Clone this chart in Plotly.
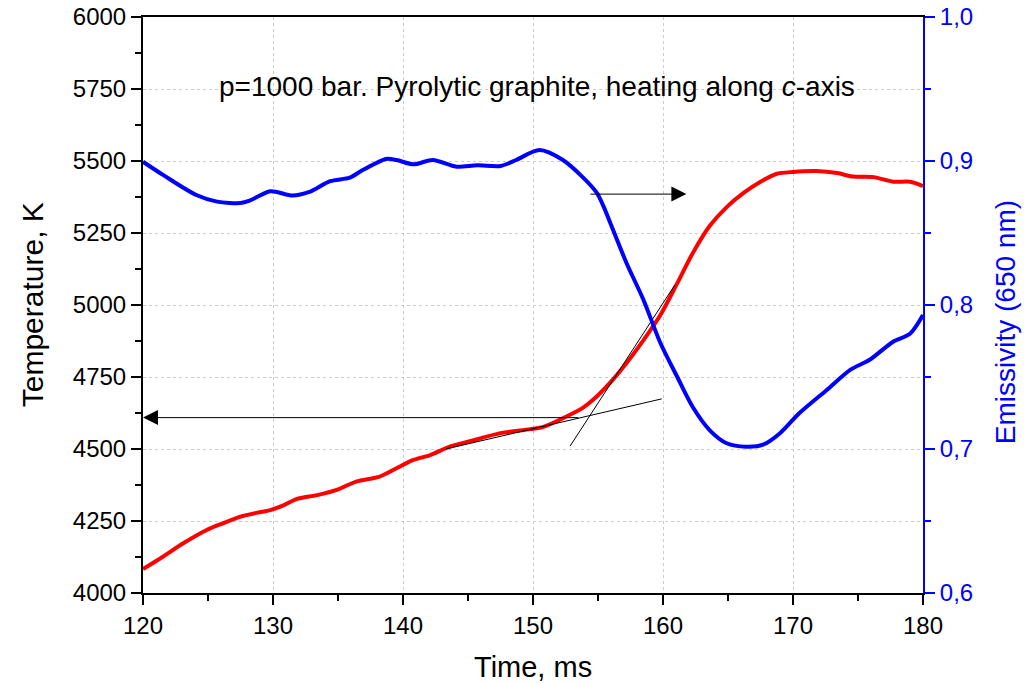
import plotly.graph_objects as go

# ---- data ----
time_T = [120, 121.5, 123, 124.9, 126.2, 127.5, 128.8, 129.8, 130.8, 131.8, 133.4, 134.9,
          136.4, 138.2, 139.5, 140.8, 142.1, 143.6, 145.7, 147.5, 149.8, 150.8, 152.3,
          153.8, 154.6, 155.9, 157.2, 158.5, 159.8, 161.1, 162.3, 163.6, 164.9, 166.2,
          167.5, 168.7, 170, 171.8, 173.4, 174.6, 176.2, 177.7, 179, 180]
temperature = [4083, 4125, 4170, 4219, 4243, 4265, 4279, 4288, 4304, 4326, 4340, 4358,
               4387, 4404, 4433, 4462, 4479, 4508, 4534, 4555, 4569, 4577, 4607,
               4642, 4670, 4729, 4799, 4878, 4965, 5076, 5181, 5275, 5340, 5389,
               5428, 5455, 5462, 5465, 5458, 5446, 5444, 5428, 5428, 5413]

time_E = [120, 121.6, 124.1, 125.7, 127.5, 128.2, 129.8, 131.5, 132.8, 134.4, 135.9, 136.9,
          138.7, 139.5, 140.8, 142.3, 144.1, 145.7, 147.5, 148.7, 150.5, 152.3, 153.8,
          154.9, 155.4, 155.9, 157.2, 158.5, 159.8, 161.1, 162.3, 163.6, 164.9, 166.4, 167.7,
          169, 170.5, 172.6, 174.4, 175.9, 177.7, 179, 180]
emissivity = [0.8995, 0.890, 0.8764, 0.8718, 0.8708, 0.8725, 0.879, 0.876, 0.8785, 0.886,
              0.8884, 0.8937, 0.9014, 0.9007, 0.8977, 0.9007, 0.896, 0.897, 0.8965, 0.9007,
              0.9076, 0.9007, 0.889, 0.878, 0.869, 0.858, 0.829, 0.8035, 0.7736, 0.750,
              0.729, 0.713, 0.704, 0.7016, 0.703, 0.711, 0.725, 0.741, 0.755, 0.762, 0.7745,
              0.780, 0.793]

# tangent lines (time, temperature)
tangent_shallow_t = [143.3, 159.9]
tangent_shallow_T = [4500, 4674]
tangent_steep_t = [152.85, 160.9]
tangent_steep_T = [4510, 5069]

# arrows: (tail_t, tail_T, head_t, head_T)
arrow_left = (153.6, 4609, 120.0, 4609)
arrow_right = (154.3, 5385, 161.8, 5385)

x_ticks = [120, 130, 140, 150, 160, 170, 180]
T_ticks = [4000, 4250, 4500, 4750, 5000, 5250, 5500, 5750, 6000]
E_ticks = [0.6, 0.7, 0.8, 0.9, 1.0]
E_tick_labels = ["0,6", "0,7", "0,8", "0,9", "1,0"]

title_text = "p=1000 bar. Pyrolytic graphite, heating along <i>c</i>-axis"

FONT = "Arial, Liberation Sans, sans-serif"
BLUE = "#0000ff"
RED = "#ff0000"

fig = go.Figure()
fig.add_trace(go.Scatter(x=time_T, y=temperature, mode="lines",
                         line=dict(color=RED, width=4, shape="spline", smoothing=0.8),
                         yaxis="y", showlegend=False))
fig.add_trace(go.Scatter(x=time_E, y=emissivity, mode="lines",
                         line=dict(color=BLUE, width=4, shape="spline", smoothing=0.8),
                         yaxis="y2", showlegend=False))
fig.add_trace(go.Scatter(x=tangent_shallow_t, y=tangent_shallow_T, mode="lines",
                         line=dict(color="black", width=1), yaxis="y", showlegend=False))
fig.add_trace(go.Scatter(x=tangent_steep_t, y=tangent_steep_T, mode="lines",
                         line=dict(color="black", width=1), yaxis="y", showlegend=False))

annotations = []
for (tt, tT, ht, hT) in [arrow_left, arrow_right]:
    annotations.append(dict(x=ht, y=hT, ax=tt, ay=tT, xref="x", yref="y",
                            axref="x", ayref="y", showarrow=True, arrowhead=2,
                            arrowsize=3, arrowwidth=1, arrowcolor="black", text=""))

annotations.append(dict(x=150.3, y=5757, xref="x", yref="y", text=title_text,
                        showarrow=False, font=dict(family=FONT, size=28, color="black")))
annotations.append(dict(x=0.5, y=-0.128, xref="paper", yref="paper", text="Time, ms",
                        showarrow=False, yanchor="middle",
                        font=dict(family=FONT, size=29, color="black")))
annotations.append(dict(x=-0.142, y=0.5, xref="paper", yref="paper", text="Temperature, K",
                        showarrow=False, textangle=-90, xanchor="center",
                        font=dict(family=FONT, size=30, color="black")))
annotations.append(dict(x=1.105, y=0.47, xref="paper", yref="paper",
                        text="Emissivity (650 nm)", showarrow=False, textangle=-90,
                        xanchor="center", font=dict(family=FONT, size=28, color=BLUE)))

grid = dict(showgrid=True, gridcolor="#cccccc", griddash="dot", gridwidth=1)

fig.update_layout(
    width=1035, height=683,
    margin=dict(l=143, r=112, t=17, b=90, autoexpand=False),
    paper_bgcolor="white", plot_bgcolor="white",
    font=dict(family=FONT, size=24, color="black"),
    xaxis=dict(range=[120, 180], tickvals=x_ticks, showline=True, linecolor="black",
               linewidth=2, mirror=True, ticks="outside", ticklen=10, tickwidth=2,
               tickcolor="black", zeroline=False, automargin=False,
               minor=dict(ticks="outside", ticklen=6, tickwidth=2, dtick=5,
                          tick0=120, tickcolor="black", showgrid=False),
               tickfont=dict(size=24), **grid),
    yaxis=dict(range=[4000, 6000], tickvals=T_ticks, showline=True, linecolor="black",
               linewidth=2, ticks="outside", ticklen=10, tickwidth=2, tickcolor="black",
               zeroline=False, automargin=False,
               minor=dict(ticks="outside", ticklen=6, tickwidth=2, dtick=125,
                          tick0=4000, tickcolor="black", showgrid=False),
               tickfont=dict(size=24), **grid),
    yaxis2=dict(range=[0.6, 1.0], overlaying="y", side="right", tickvals=E_ticks,
                ticktext=E_tick_labels, showline=True, linecolor=BLUE, linewidth=2,
                ticks="outside", ticklen=10, tickwidth=2, tickcolor=BLUE,
                showgrid=False, zeroline=False, automargin=False,
                minor=dict(ticks="outside", ticklen=6, tickwidth=2, dtick=0.05,
                           tick0=0.6, tickcolor=BLUE, showgrid=False),
                tickfont=dict(size=24, color=BLUE)),
    annotations=annotations,
)

fig.write_html("out.html")
